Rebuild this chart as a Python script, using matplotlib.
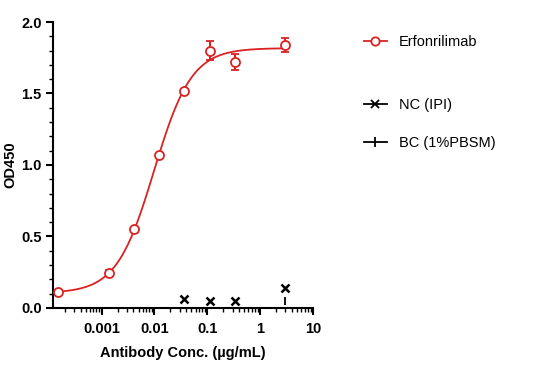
import numpy as np
import matplotlib
matplotlib.use('Agg')
import matplotlib.pyplot as plt
from matplotlib.ticker import FixedLocator, MultipleLocator, LogLocator, NullFormatter, FixedFormatter
from matplotlib.lines import Line2D

plt.rcParams['font.family'] = ['Liberation Sans', 'DejaVu Sans']

# Erfonrilimab dilution series (ug/mL) and OD450
conc = [0.000152, 0.00137, 0.00412, 0.0123, 0.037, 0.111, 0.333, 3.0]
od = [0.11, 0.245, 0.55, 1.07, 1.52, 1.80, 1.72, 1.84]
od_err = [0.0, 0.02, 0.0, 0.0, 0.0, 0.066, 0.055, 0.047]

# NC (IPI)
nc_conc = [0.037, 0.111, 0.333, 3.0]
nc_od = [0.06, 0.05, 0.05, 0.14]

# BC (1%PBSM)
bc_conc = [3.0]
bc_od = [0.05]

red = '#d92323'


def four_pl(p, x):
    bottom, top, logec, hill = p
    return bottom + (top - bottom) / (1 + 10 ** ((logec - np.log10(x)) * hill))


def fit_4pl(x, y):
    x = np.asarray(x)
    y = np.asarray(y)
    p = np.array([y.min(), y.max(), -2.0, 1.0])
    lam = 1e-3
    for _ in range(200):
        r = y - four_pl(p, x)
        J = np.zeros((len(x), 4))
        for k in range(4):
            dp = np.zeros(4)
            dp[k] = 1e-6
            J[:, k] = (four_pl(p + dp, x) - four_pl(p, x)) / 1e-6
        A = J.T @ J + lam * np.eye(4)
        step = np.linalg.solve(A, J.T @ r)
        p_new = p + step
        if np.sum((y - four_pl(p_new, x)) ** 2) < np.sum(r ** 2):
            p = p_new
            lam *= 0.5
        else:
            lam *= 5
    return p


params = fit_4pl(conc, od)
xs = np.logspace(np.log10(conc[0]), np.log10(conc[-1]), 300)

fig = plt.figure(figsize=(5.35, 3.67), dpi=100)
ax = fig.add_axes([0.099, 0.161, 0.486, 0.779])

ax.plot(xs, four_pl(params, xs), color=red, lw=1.3, zorder=2)
ax.errorbar(conc, od, yerr=od_err, fmt='o', mfc='white', mec=red, ms=6.5,
            mew=1.3, ecolor=red, elinewidth=1.5, capsize=3, capthick=1.5,
            zorder=3)
ax.plot(nc_conc, nc_od, 'x', color='black', ms=6, mew=1.8, zorder=4)
ax.plot(bc_conc, bc_od, '|', color='black', ms=5.5, mew=1.3, zorder=4)

ax.set_xscale('log')
ax.set_xlim(1.2e-4, 10)
ax.set_ylim(0, 2.0)
ax.xaxis.set_major_locator(FixedLocator([0.001, 0.01, 0.1, 1, 10]))
ax.xaxis.set_major_formatter(FixedFormatter(['0.001', '0.01', '0.1', '1', '10']))
ax.xaxis.set_minor_locator(LogLocator(base=10, subs=np.arange(2, 10), numticks=20))
ax.xaxis.set_minor_formatter(NullFormatter())
ax.yaxis.set_major_locator(FixedLocator([0, 0.5, 1.0, 1.5, 2.0]))
ax.yaxis.set_major_formatter(FixedFormatter(['0.0', '0.5', '1.0', '1.5', '2.0']))
ax.yaxis.set_minor_locator(MultipleLocator(0.1))

for s in ['top', 'right']:
    ax.spines[s].set_visible(False)
for s in ['left', 'bottom']:
    ax.spines[s].set_linewidth(1.5)
ax.tick_params(which='major', length=5, width=1.5, labelsize=10.5)
ax.tick_params(axis='x', which='major', pad=5)
ax.tick_params(axis='y', which='major', pad=3)
ax.tick_params(which='minor', length=3, width=1.0)
for lab in ax.get_xticklabels() + ax.get_yticklabels():
    lab.set_fontweight('bold')

ax.set_xlabel('Antibody Conc. (µg/mL)', fontsize=10.5, fontweight='bold', labelpad=7)
ax.set_ylabel('OD450', fontsize=10.5, fontweight='bold', labelpad=3)

h1 = Line2D([], [], color=red, lw=1.3, marker='o', mfc='white', mec=red, ms=6, mew=1.3)
h2 = Line2D([], [], color='black', lw=1.3, marker='x', ms=6, mew=1.3)
h3 = Line2D([], [], color='black', lw=1.3, marker='|', ms=7, mew=1.3)

leg1 = fig.legend([h1], ['Erfonrilimab'], loc='center left',
                  bbox_to_anchor=(0.655, 0.885), frameon=False, fontsize=10.5,
                  handlelength=1.6, handletextpad=0.8)
leg2 = fig.legend([h2, h3], ['NC (IPI)', 'BC (1%PBSM)'], loc='center left',
                  bbox_to_anchor=(0.655, 0.662), frameon=False, fontsize=10.5,
                  handlelength=1.6, handletextpad=0.8, labelspacing=1.6)

fig.savefig('out.png', dpi=100)
